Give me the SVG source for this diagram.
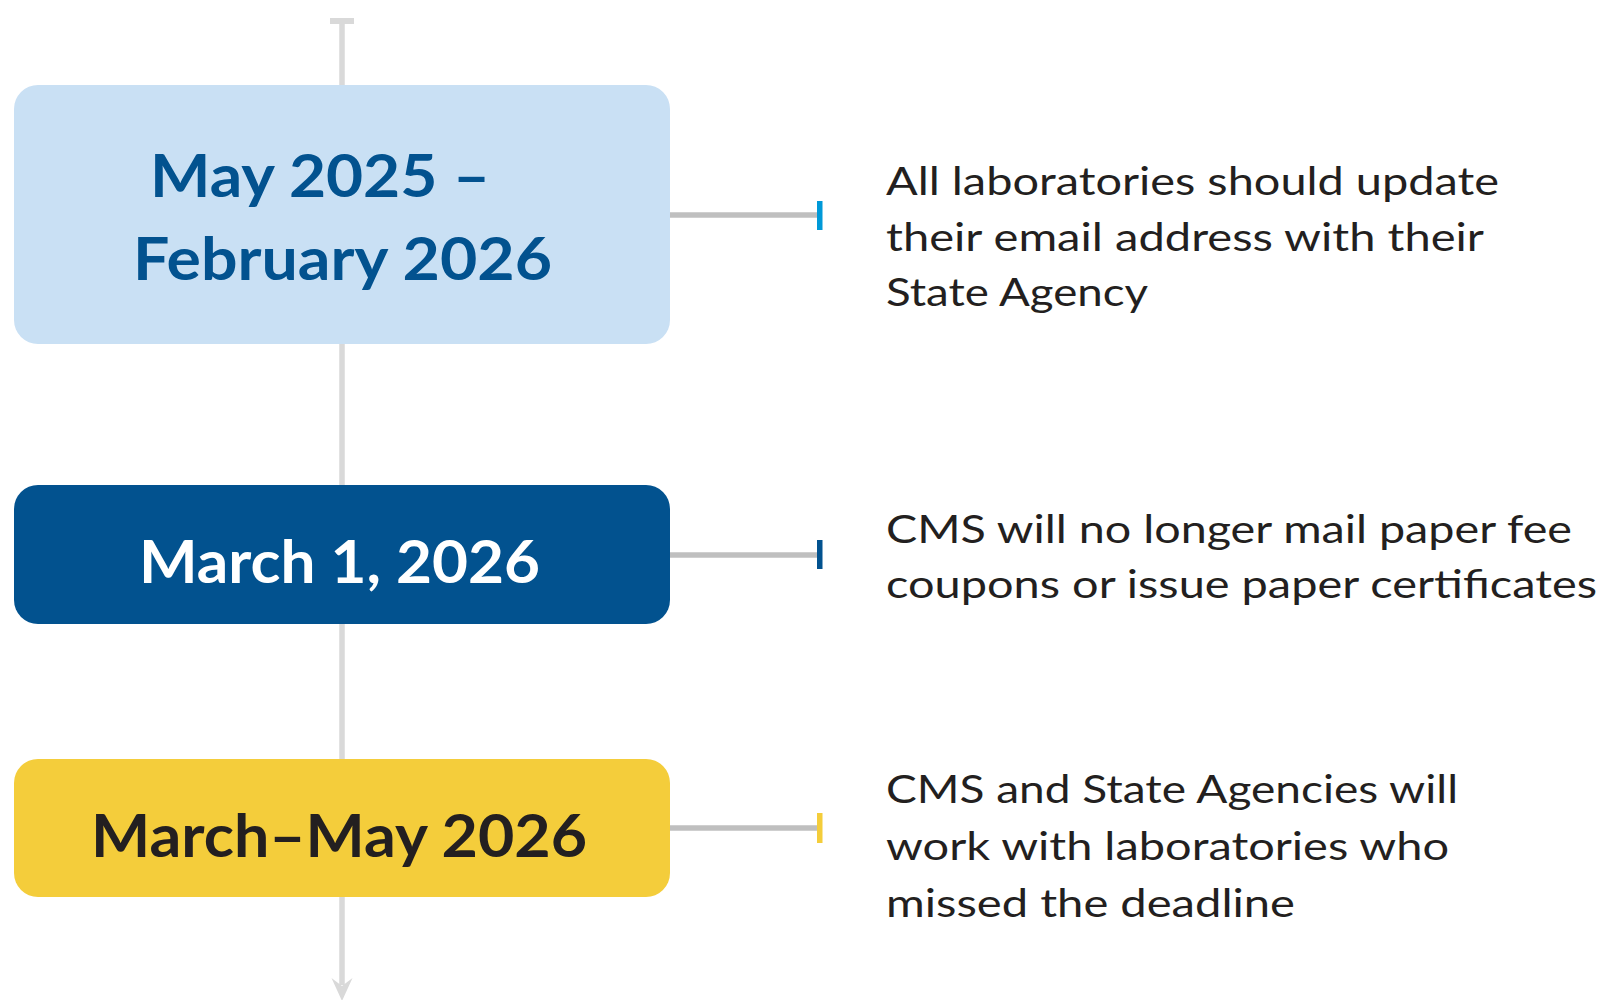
<svg xmlns="http://www.w3.org/2000/svg" width="1611" height="1000" viewBox="0 0 1611 1000">
<style>
.axis{stroke:#d9d9d9;stroke-width:5.5;fill:none}
.conn{stroke:#bfbfbf;stroke-width:5.5;fill:none}
.head{font-family:Lato,"Open Sans","Liberation Sans",sans-serif;font-weight:700;font-size:60px}
.body{font-family:Lato,"Open Sans","Liberation Sans",sans-serif;font-weight:400;font-size:39px;fill:#231f20}
</style>
<rect width="1611" height="1000" fill="#ffffff"/>
<g id="connectors">
  <line class="axis" x1="342" y1="21" x2="342" y2="985"/>
  <rect x="330" y="18" width="24" height="6" fill="#d9d9d9"/>
  <polygon points="331.5,978 342,986 352.5,978 342,1001" fill="#d9d9d9"/>
  <line class="conn" x1="668" y1="215" x2="818" y2="215"/>
  <rect x="817" y="201" width="5.5" height="29" fill="#0099d8"/>
  <line class="conn" x1="668" y1="555" x2="818" y2="555"/>
  <rect x="817" y="540" width="5.5" height="29" fill="#02528f"/>
  <line class="conn" x1="668" y1="828" x2="818" y2="828"/>
  <rect x="817" y="813" width="5.5" height="30" fill="#f4cd3b"/>
</g>
<g id="node1">
  <rect x="14" y="85" width="656" height="259" rx="24" fill="#c9e0f4"/>
  <text class="head" fill="#02528f" x="150" y="197" textLength="340" lengthAdjust="spacingAndGlyphs">May 2025 –</text>
  <text class="head" fill="#02528f" x="133" y="280" textLength="419" lengthAdjust="spacingAndGlyphs">February 2026</text>
</g>
<g id="node2">
  <rect x="14" y="485" width="656" height="139" rx="24" fill="#02528f"/>
  <text class="head" fill="#ffffff" x="139" y="583" textLength="401" lengthAdjust="spacingAndGlyphs">March 1, 2026</text>
</g>
<g id="node3">
  <rect x="14" y="759" width="656" height="138" rx="24" fill="#f4cd3b"/>
  <text class="head" fill="#231f20" x="91" y="857" textLength="496" lengthAdjust="spacingAndGlyphs">March–May 2026</text>
</g>
<g id="desc1">
  <text class="body" x="886" y="195" textLength="613" lengthAdjust="spacingAndGlyphs">All laboratories should update</text>
  <text class="body" x="886" y="251" textLength="598" lengthAdjust="spacingAndGlyphs">their email address with their</text>
  <text class="body" x="886" y="306" textLength="262" lengthAdjust="spacingAndGlyphs">State Agency</text>
</g>
<g id="desc2">
  <text class="body" x="886" y="543" textLength="686" lengthAdjust="spacingAndGlyphs">CMS will no longer mail paper fee</text>
  <text class="body" x="886" y="598" textLength="711" lengthAdjust="spacingAndGlyphs">coupons or issue paper certificates</text>
</g>
<g id="desc3">
  <text class="body" x="886" y="803" textLength="572" lengthAdjust="spacingAndGlyphs">CMS and State Agencies will</text>
  <text class="body" x="886" y="860" textLength="563" lengthAdjust="spacingAndGlyphs">work with laboratories who</text>
  <text class="body" x="886" y="917" textLength="409" lengthAdjust="spacingAndGlyphs">missed the deadline</text>
</g>
</svg>
